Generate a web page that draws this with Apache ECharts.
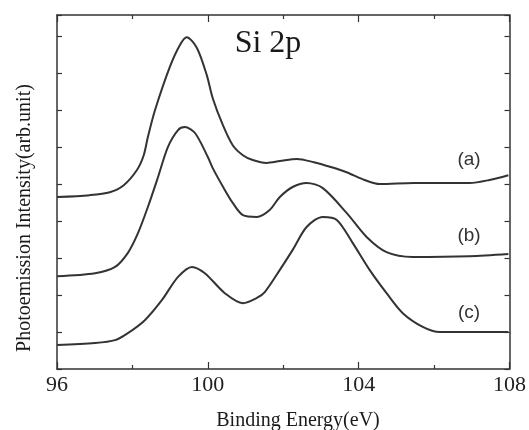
<!DOCTYPE html>
<html>
<head>
<meta charset="utf-8">
<script src="https://cdn.jsdelivr.net/npm/echarts@6/dist/echarts.min.js"></script>
<style>html,body{margin:0;padding:0;background:#fff;}#c{width:529px;height:430px;}</style>
</head>
<body>
<div id="c"></div>
<script>
// Binding energy (eV) and intensity (arb. unit)
var energyA = [96.00, 96.87, 97.40, 97.77, 98.12, 98.30, 98.41, 98.60, 98.99, 99.26, 99.44, 99.71, 99.97, 100.13, 100.40, 100.66, 100.93, 101.19, 101.56, 101.91, 102.36, 102.81, 103.26, 103.68, 104.16, 104.56, 105.46, 106.94, 107.47, 107.97];
var intensityA = [4.65, 4.70, 4.78, 4.97, 5.38, 5.78, 6.27, 7.00, 8.16, 8.76, 8.97, 8.68, 7.95, 7.32, 6.59, 6.05, 5.78, 5.65, 5.57, 5.62, 5.68, 5.59, 5.46, 5.32, 5.11, 5.00, 5.03, 5.03, 5.11, 5.24];

var energyB = [96.00, 97.01, 97.54, 97.88, 98.15, 98.41, 98.68, 98.94, 99.21, 99.39, 99.66, 100.00, 100.13, 100.45, 100.66, 100.93, 101.30, 101.64, 101.91, 102.25, 102.62, 103.05, 103.68, 104.21, 104.74, 105.43, 106.94, 107.97];
var intensityB = [2.51, 2.59, 2.76, 3.14, 3.68, 4.38, 5.19, 6.00, 6.46, 6.54, 6.38, 5.73, 5.43, 4.84, 4.49, 4.16, 4.11, 4.30, 4.65, 4.92, 5.03, 4.89, 4.22, 3.57, 3.16, 3.03, 3.05, 3.11];

var energyC = [96.00, 97.01, 97.54, 97.88, 98.33, 98.78, 99.21, 99.58, 99.92, 100.45, 100.93, 101.30, 101.51, 101.91, 102.25, 102.62, 103.05, 103.42, 103.84, 104.29, 104.74, 105.17, 105.70, 106.15, 106.94, 107.97];
var intensityC = [0.65, 0.70, 0.78, 0.97, 1.32, 1.86, 2.49, 2.76, 2.59, 2.05, 1.78, 1.92, 2.08, 2.68, 3.22, 3.84, 4.11, 4.03, 3.41, 2.68, 2.05, 1.51, 1.14, 1.00, 1.00, 1.00];

var curveNames = ['(a)', '(b)', '(c)'];
var xTickValues = [96, 100, 104, 108];
var titleText = 'Si 2p';
var xAxisTitle = 'Binding Energy(eV)';
var yAxisTitle = 'Photoemission Intensity(arb.unit)';

function pairs(xs, ys) { return xs.map(function (x, i) { return [x, ys[i]]; }); }

var ink = '#333';
var serif = '"Liberation Serif", "Times New Roman", serif';
var sans = '"Liberation Sans", Arial, sans-serif';

var xCommon = {
  type: 'value', min: xTickValues[0], max: xTickValues[xTickValues.length - 1], interval: 4,
  axisLine: { show: true, onZero: false, lineStyle: { color: ink, width: 1.5 } },
  axisTick: { show: true, inside: true, length: 7, lineStyle: { color: ink, width: 1.2 } },
  minorTick: { show: true, splitNumber: 2, length: 4, lineStyle: { color: ink, width: 1.2 } },
  splitLine: { show: false }, minorSplitLine: { show: false }
};
var yCommon = {
  type: 'value', min: 0, max: 9.57, interval: 1,
  axisLine: { show: true, onZero: false, lineStyle: { color: ink, width: 1.5 } },
  axisTick: { show: true, inside: true, length: 5, lineStyle: { color: ink, width: 1.2 } },
  axisLabel: { show: false },
  splitLine: { show: false }
};

var chart = echarts.init(document.getElementById('c'), null, { renderer: 'canvas' });
var series = [[energyA, intensityA], [energyB, intensityB], [energyC, intensityC]].map(function (d, i) {
  return {
    name: curveNames[i], type: 'line', xAxisIndex: 0, yAxisIndex: 0,
    data: pairs(d[0], d[1]), smooth: 0.3, showSymbol: false, symbol: 'none',
    lineStyle: { color: '#333', width: 2 }, silent: true
  };
});

chart.setOption({
  animation: false,
  backgroundColor: '#ffffff',
  grid: { left: 57, right: 19, top: 15, bottom: 61, containLabel: false },
  xAxis: [
    Object.assign({}, xCommon, {
      position: 'bottom',
      axisLabel: { show: true, margin: 5, fontFamily: serif, fontSize: 22, color: '#222',
        formatter: function (v) { return xTickValues.indexOf(v) >= 0 ? String(v) : ''; } }
    }),
    Object.assign({}, xCommon, { position: 'top', axisLabel: { show: false } })
  ],
  yAxis: [
    Object.assign({}, yCommon, { position: 'left' }),
    Object.assign({}, yCommon, { position: 'right' })
  ],
  series: series,
  graphic: [
    { type: 'text', x: 268, y: 44, style: { text: titleText, font: '32px ' + serif, fill: '#1a1a1a', align: 'center', verticalAlign: 'middle' } },
    { type: 'text', x: 298, y: 421, style: { text: xAxisTitle, font: '20px ' + serif, fill: '#1a1a1a', align: 'center', verticalAlign: 'middle' } },
    { type: 'text', x: 25, y: 218, rotation: Math.PI / 2, style: { text: yAxisTitle, font: '20px ' + serif, fill: '#1a1a1a', align: 'center', verticalAlign: 'middle' } },
    { type: 'text', x: 469, y: 160, style: { text: curveNames[0], font: '19px ' + sans, fill: '#333', align: 'center', verticalAlign: 'middle' } },
    { type: 'text', x: 469, y: 236, style: { text: curveNames[1], font: '19px ' + sans, fill: '#333', align: 'center', verticalAlign: 'middle' } },
    { type: 'text', x: 469, y: 313, style: { text: curveNames[2], font: '19px ' + sans, fill: '#333', align: 'center', verticalAlign: 'middle' } }
  ]
});
</script>
</body>
</html>
